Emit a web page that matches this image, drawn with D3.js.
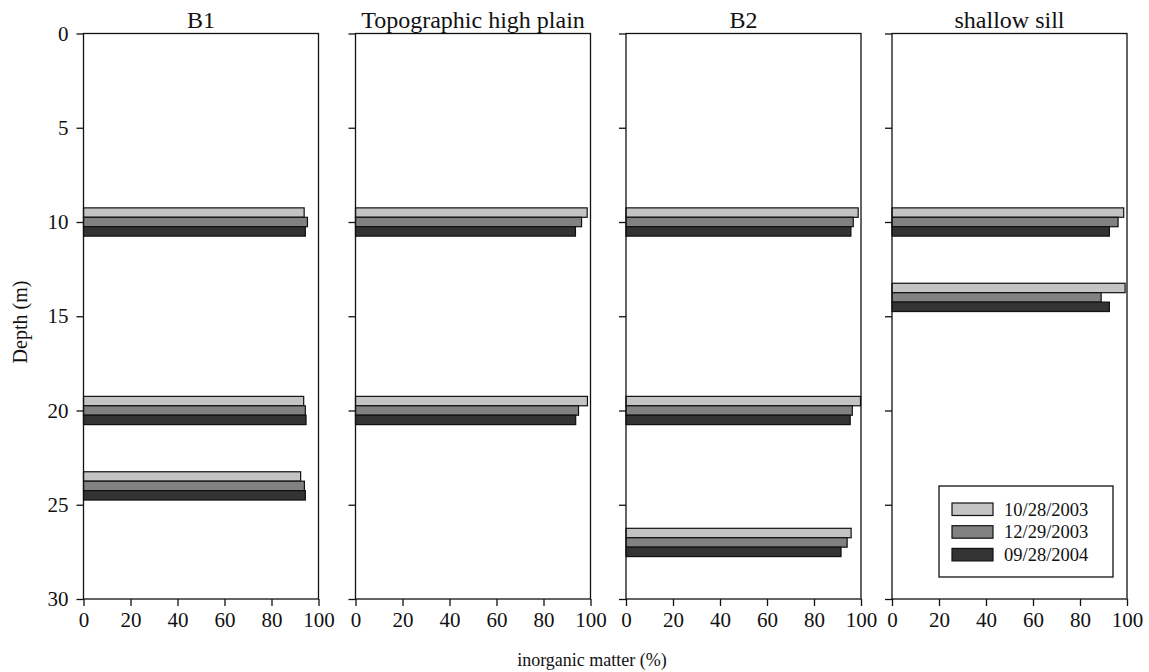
<!DOCTYPE html>
<html>
<head>
<meta charset="utf-8">
<script src="https://cdn.jsdelivr.net/npm/d3@7"></script>
<style>
body { margin: 0; background: #fff; }
svg text { font-family: "Liberation Serif", "Times New Roman", serif !important; fill: #111; }
</style>
</head>
<body>
<div id="chart"></div>
<script>
const WIDTH = 1149, HEIGHT = 672;

// data
const sites = ["B1", "Topographic high plain", "B2", "shallow sill"];
const dates = ["10/28/2003", "12/29/2003", "09/28/2004"];
const colors = ["#c4c4c4", "#818181", "#333333"];

// depths sampled at each site (m)
const depthsB1 = [10, 20, 24];
const depthsPlain = [10, 20];
const depthsB2 = [10, 20, 27];
const depthsSill = [10, 14];

// inorganic matter (%) per depth, in order of dates
const valuesB1 = [[93.9, 95.3, 94.4], [93.7, 94.4, 94.7], [92.4, 94.0, 94.4]];
const valuesPlain = [[98.6, 96.2, 93.6], [98.7, 94.9, 93.7]];
const valuesB2 = [[98.8, 96.7, 95.7], [99.8, 96.3, 95.4], [95.8, 94.1, 91.5]];
const valuesSill = [[98.6, 96.2, 92.5], [99.2, 89.0, 92.5]];

const xTicks = [0, 20, 40, 60, 80, 100];
const yTicks = [0, 5, 10, 15, 20, 25, 30];

const panelDepths = [depthsB1, depthsPlain, depthsB2, depthsSill];
const panelValues = [valuesB1, valuesPlain, valuesB2, valuesSill];

const panelLeft = [83.5, 355.5, 626, 892];
const panelW = 235;
const TOP = 33.5, BOTTOM = 599;
const BAR_H = 0.5; // metres

const svg = d3.select("#chart").append("svg")
  .attr("width", WIDTH)
  .attr("height", HEIGHT);

const y = d3.scaleLinear().domain([0, 30]).range([TOP, BOTTOM]);

sites.forEach((site, p) => {
  const left = panelLeft[p];
  const x = d3.scaleLinear().domain([0, 100]).range([left, left + panelW]);

  // bars
  const rows = [];
  panelDepths[p].forEach((dep, i) => {
    panelValues[p][i].forEach((v, k) => {
      rows.push({depth: dep, k: k, value: v});
    });
  });

  svg.append("g").selectAll("rect")
    .data(rows)
    .enter()
    .append("rect")
    .attr("x", x(0))
    .attr("y", d => y(d.depth - 1.5 * BAR_H + d.k * BAR_H))
    .attr("width", d => x(d.value) - x(0))
    .attr("height", d => y(BAR_H) - y(0))
    .attr("fill", d => colors[d.k])
    .attr("stroke", "#111")
    .attr("stroke-width", 1.2);

  // frame
  svg.append("rect")
    .attr("x", left)
    .attr("y", TOP)
    .attr("width", panelW)
    .attr("height", BOTTOM - TOP)
    .attr("fill", "none")
    .attr("stroke", "#111")
    .attr("stroke-width", 1.3);

  const xAxis = svg.append("g")
    .attr("transform", "translate(0," + BOTTOM + ")")
    .call(d3.axisBottom(x).tickValues(xTicks).tickSize(7).tickPadding(6).tickSizeOuter(0));
  xAxis.select(".domain").remove();
  xAxis.selectAll("line").attr("stroke", "#111").attr("stroke-width", 1.3);
  xAxis.selectAll("text").style("font-size", "21px");

  const yAxis = svg.append("g")
    .attr("transform", "translate(" + left + ",0)")
    .call(d3.axisLeft(y).tickValues(yTicks).tickSize(7).tickPadding(8).tickSizeOuter(0));
  yAxis.select(".domain").remove();
  yAxis.selectAll("line").attr("stroke", "#111").attr("stroke-width", 1.3);
  yAxis.selectAll("text").style("font-size", "21px");
  if (p > 0) yAxis.selectAll("text").remove();

  svg.append("text")
    .attr("x", left + panelW / 2)
    .attr("y", 28)
    .attr("text-anchor", "middle")
    .style("font-size", "24px")
    .text(site);
});

// axis titles
svg.append("text")
  .attr("x", 592)
  .attr("y", 666)
  .attr("text-anchor", "middle")
  .style("font-size", "18px")
  .text("inorganic matter (%)");

svg.append("text")
  .attr("transform", "translate(27," + 322 + ") rotate(-90)")
  .attr("text-anchor", "middle")
  .style("font-size", "20px")
  .text("Depth (m)");

// legend
const legend = svg.append("g");
legend.append("rect")
  .attr("x", 939)
  .attr("y", 486)
  .attr("width", 174)
  .attr("height", 91)
  .attr("fill", "#fff")
  .attr("stroke", "#111")
  .attr("stroke-width", 1.3);

dates.forEach((d, k) => {
  legend.append("rect")
    .attr("x", 952)
    .attr("y", 503 + k * 22.7)
    .attr("width", 41)
    .attr("height", 12.5)
    .attr("fill", colors[k])
    .attr("stroke", "#111")
    .attr("stroke-width", 1.2);
  legend.append("text")
    .attr("x", 1004)
    .attr("y", 515.5 + k * 22.7)
    .style("font-size", "18.5px")
    .text(d);
});
</script>
</body>
</html>
